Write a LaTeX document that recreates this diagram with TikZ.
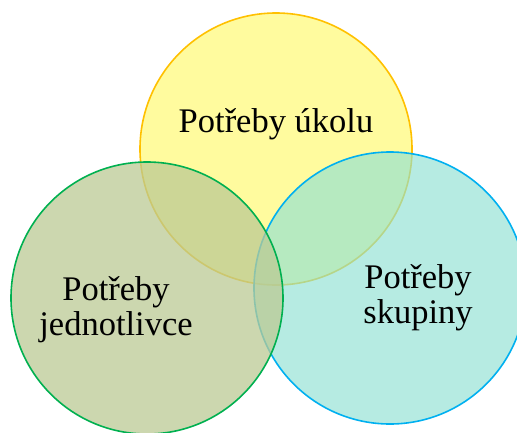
\documentclass[tikz,border=0pt]{standalone}
\usepackage{fontspec}
\setmainfont{Liberation Serif}
\usepackage{tikz}
\definecolor{ukolfill}{RGB}{255,251,158}
\definecolor{ukoldraw}{RGB}{255,192,0}
\definecolor{skupfill}{RGB}{143,225,211}
\definecolor{skupdraw}{RGB}{0,176,240}
\definecolor{jednfill}{RGB}{187,202,148}
\definecolor{jedndraw}{RGB}{0,176,80}

\begin{document}
\begin{tikzpicture}[x=1pt, y=-1pt,
  need/.style={circle, minimum size=272pt, inner sep=0pt, line width=1.6pt},
  ukol/.style={need, fill=ukolfill, draw=ukoldraw},
  skup/.style={need, fill=skupfill, fill opacity=0.65, draw=skupdraw},
  jedn/.style={need, fill=jednfill, fill opacity=0.75, draw=jedndraw},
  lbl/.style={font=\fontsize{34.5}{35}\selectfont, align=center, text=black, anchor=base}
]
\useasboundingbox (0,0) rectangle (517,432);

% circles: task, group, individual
\node[ukol] (cukol) at (276,149) {};
\node[skup] (cskup) at (390,288) {};
\node[jedn] (cjedn) at (147,298) {};

% labels (base = last line)
\node[lbl] (tukol) at (276,132) {Potřeby úkolu};
\node[lbl] (tskup) at (418,323) {Potřeby\\skupiny};
\node[lbl] (tjedn) at (116,335) {Potřeby\\jednotlivce};
\end{tikzpicture}
\end{document}
